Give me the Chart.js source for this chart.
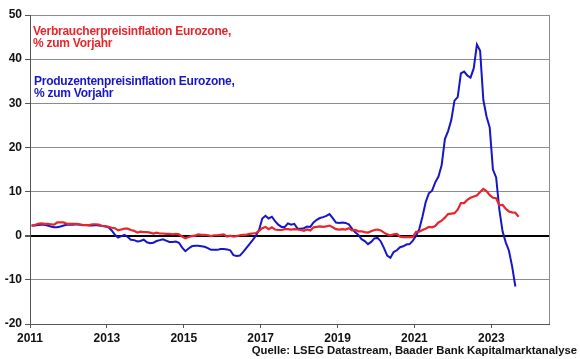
<!DOCTYPE html>
<html>
<head>
<meta charset="utf-8">
<script src="https://cdn.jsdelivr.net/npm/chart.js@4"></script>
<style>
  html, body { margin: 0; padding: 0; background: #fff; }
  #wrap { position: relative; width: 580px; height: 359px; }
</style>
</head>
<body>
<div id="wrap"><canvas id="chart" width="580" height="359"></canvas></div>
<script>
// monthly series, starting January 2011
const startYear = 2011;

// Verbraucherpreisinflation Eurozone, % zum Vorjahr (Jan 2011 - Sep 2023)
const verbraucherpreise = [
  2.3, 2.4, 2.7, 2.8, 2.7, 2.7, 2.6, 2.5, 3.0, 3.0, 3.0, 2.7,
  2.7, 2.7, 2.7, 2.6, 2.4, 2.4, 2.4, 2.6, 2.6, 2.5, 2.2, 2.2,
  2.0, 1.8, 1.7, 1.2, 1.4, 1.6, 1.6, 1.3, 1.1, 0.7, 0.9, 0.8,
  0.8, 0.7, 0.5, 0.7, 0.5, 0.5, 0.4, 0.4, 0.3, 0.4, 0.3, -0.2,
  -0.6, -0.3, -0.1, 0.0, 0.3, 0.2, 0.2, 0.1, -0.1, 0.1, 0.1, 0.2,
  0.3, -0.2, 0.0, -0.2, -0.1, 0.1, 0.2, 0.2, 0.4, 0.5, 0.6, 1.1,
  1.7, 2.0, 1.5, 1.9, 1.4, 1.3, 1.3, 1.5, 1.5, 1.4, 1.5, 1.4,
  1.3, 1.1, 1.4, 1.2, 1.9, 2.0, 2.1, 2.0, 2.1, 2.3, 1.9, 1.5,
  1.4, 1.5, 1.4, 1.7, 1.2, 1.3, 1.0, 1.0, 0.8, 0.7, 1.0, 1.3,
  1.4, 1.2, 0.7, 0.3, 0.1, 0.3, 0.4, -0.2, -0.3, -0.3, -0.3, -0.3,
  0.9, 0.9, 1.3, 1.6, 2.0, 1.9, 2.2, 3.0, 3.4, 4.1, 4.9, 5.0,
  5.1, 5.9, 7.4, 7.4, 8.1, 8.6, 8.9, 9.1, 9.9, 10.6, 10.1, 9.2,
  8.6, 8.5, 6.9, 7.0, 6.1, 5.5, 5.3, 5.2, 4.3
];

// Produzentenpreisinflation Eurozone, % zum Vorjahr (Jan 2011 - Aug 2023)
const produzentenpreise = [
  2.3, 2.3, 2.4, 2.5, 2.5, 2.3, 2.1, 1.9, 1.9, 2.1, 2.3, 2.5,
  2.5, 2.5, 2.6, 2.5, 2.4, 2.4, 2.3, 2.3, 2.4, 2.3, 2.2, 2.1,
  1.9, 1.2, 0.2, -0.4, -0.1, 0.2, -0.3, -0.9, -1.0, -1.3, -1.2, -0.9,
  -1.5, -1.7, -1.6, -1.2, -1.0, -0.8, -1.1, -1.4, -1.4, -1.3, -1.6, -2.7,
  -3.5, -2.9, -2.4, -2.3, -2.3, -2.4, -2.5, -2.8, -3.2, -3.2, -3.2, -3.0,
  -3.0, -3.1, -3.3, -4.4, -4.6, -4.5, -3.7, -2.8, -1.9, -1.0, 0.0, 1.3,
  3.9, 4.5, 3.9, 4.3, 3.3, 2.5, 2.0, 2.0, 2.8, 2.5, 2.7, 1.6,
  1.6, 1.7, 2.1, 2.0, 3.0, 3.6, 4.0, 4.2, 4.5, 4.9, 4.0, 3.0,
  2.9, 3.0, 2.9, 2.6, 1.6, 0.8, 0.2, -0.8, -1.2, -1.9, -1.4, -0.6,
  -0.5, -1.3, -2.8, -4.5, -5.0, -3.7, -3.3, -2.6, -2.4, -2.0, -1.9, -1.1,
  0.0, 1.5, 4.3, 7.6, 9.6, 10.2, 12.1, 13.4, 16.0, 21.9, 23.7, 26.2,
  30.6, 31.4, 36.8, 37.2, 36.3, 35.8, 37.9, 43.3, 41.9, 30.8, 27.0, 24.5,
  15.0, 13.2, 5.9, 1.0, -1.5, -3.4, -7.0, -11.5
];

const tickYears = [2011, 2013, 2015, 2017, 2019, 2021, 2023];
const yTicks = [-20, -10, 0, 10, 20, 30, 40, 50];

const labelCpi = ['Verbraucherpreisinflation Eurozone,', '% zum Vorjahr'];
const labelPpi = ['Produzentenpreisinflation Eurozone,', '% zum Vorjahr'];
const sourceText = 'Quelle: LSEG Datastream, Baader Bank Kapitalmarktanalyse';

const RED = '#e8252b';
const BLUE = '#1616c8';
const FONT = '"Liberation Sans", Arial, sans-serif';

const toPoints = arr => arr.map((v, i) => ({ x: startYear + (i + 0.5) / 12, y: v }));

const textPlugin = {
  id: 'texts',
  beforeDatasetsDraw(chart) {
    const { ctx, chartArea } = chart;
    ctx.save();
    ctx.strokeStyle = '#8c8c8c';
    ctx.lineWidth = 1;
    ctx.beginPath();
    ctx.moveTo(chartArea.right + 0.5, chartArea.top);
    ctx.lineTo(chartArea.right + 0.5, chartArea.bottom);
    ctx.stroke();
    ctx.restore();
  },
  afterDraw(chart) {
    const { ctx } = chart;
    ctx.save();
    ctx.font = 'bold 12px ' + FONT;
    ctx.letterSpacing = '-0.25px';
    ctx.textBaseline = 'middle';
    ctx.textAlign = 'left';
    ctx.fillStyle = RED;
    ctx.fillText(labelCpi[0], 33, 32);
    ctx.fillText(labelCpi[1], 33, 44);
    ctx.fillStyle = BLUE;
    ctx.fillText(labelPpi[0], 34, 82);
    ctx.fillText(labelPpi[1], 34, 94);
    ctx.fillStyle = '#111';
    ctx.textAlign = 'right';
    ctx.letterSpacing = '0px';
    ctx.font = 'bold 11.3px ' + FONT;
    ctx.fillText(sourceText, 577, 351);
    ctx.restore();
  }
};

new Chart(document.getElementById('chart'), {
  type: 'line',
  data: {
    datasets: [
      {
        label: 'Verbraucherpreise',
        data: toPoints(verbraucherpreise),
        borderColor: RED,
        borderWidth: 2.2,
        pointRadius: 0,
        tension: 0
      },
      {
        label: 'Produzentenpreise',
        data: toPoints(produzentenpreise),
        borderColor: BLUE,
        borderWidth: 2,
        pointRadius: 0,
        tension: 0
      }
    ]
  },
  options: {
    responsive: false,
    animation: false,
    layout: { padding: { top: 15, right: 31, left: 0, bottom: 0 } },
    plugins: { legend: { display: false }, tooltip: { enabled: false } },
    scales: {
      x: {
        type: 'linear',
        min: 2011,
        max: 2024.5,
        afterBuildTicks: s => { s.ticks = tickYears.map(v => ({ value: v })); },
        afterFit: s => { s.height = 35; },
        grid: { drawOnChartArea: false, drawTicks: true, tickLength: 4, color: '#555' },
        border: { color: '#555', width: 1 },
        ticks: {
          color: '#111',
          font: { family: FONT, size: 12, weight: 'bold' },
          padding: 3,
          maxRotation: 0,
          callback: v => String(v)
        }
      },
      y: {
        min: -20,
        max: 50,
        afterBuildTicks: s => { s.ticks = yTicks.map(v => ({ value: v })); },
        afterFit: s => { s.width = 30; },
        grid: {
          color: c => (c.tick && c.tick.value === 0 ? '#000' : '#8c8c8c'),
          lineWidth: c => (c.tick && c.tick.value === 0 ? 2 : 1),
          tickLength: 5,
          tickColor: '#555'
        },
        border: { color: '#555', width: 1 },
        ticks: {
          color: '#111',
          font: { family: FONT, size: 12, weight: 'bold' },
          padding: 3
        }
      }
    }
  },
  plugins: [textPlugin]
});
</script>
</body>
</html>
